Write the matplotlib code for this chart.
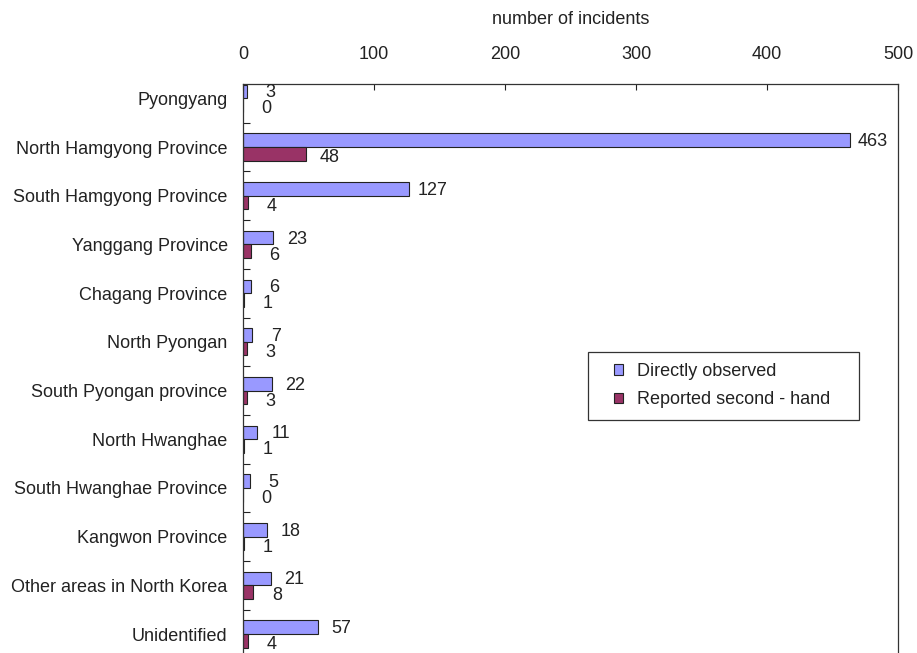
import numpy as np
import matplotlib
matplotlib.use('Agg')
import matplotlib.pyplot as plt
from matplotlib.patches import Rectangle

plt.rcParams['font.family'] = ['Liberation Sans', 'DejaVu Sans']
plt.rcParams['font.size'] = 13

regions = ['Pyongyang', 'North Hamgyong Province', 'South Hamgyong Province',
           'Yanggang Province', 'Chagang Province', 'North Pyongan',
           'South Pyongan province', 'North Hwanghae', 'South Hwanghae Province',
           'Kangwon Province', 'Other areas in North Korea', 'Unidentified']
direct = [3, 463, 127, 23, 6, 7, 22, 11, 5, 18, 21, 57]
second_hand = [0, 48, 4, 6, 1, 3, 3, 1, 0, 1, 8, 4]
series_names = ['Directly observed', 'Reported second - hand']

text_col = '#222222'
W, H = 917, 653
fig = plt.figure(figsize=(W / 100, H / 100), dpi=100)
ax = fig.add_axes([243 / W, 1 - 658.4 / H, (898 - 243) / W, (658.4 - 84) / H])

y = np.arange(len(regions))
h = 0.28
b1 = ax.barh(y - h / 2, direct, height=h, color='#9999FF', edgecolor='#222222',
             linewidth=0.8, label=series_names[0])
b2 = ax.barh(y + h / 2, second_hand, height=h, color='#993366', edgecolor='#222222',
             linewidth=0.8, label=series_names[1])

# value labels just past the bar ends
for bars, vals, dy in ((b1, direct, -1.0), (b2, second_hand, -2.7)):
    for bar, v in zip(bars, vals):
        ax.annotate(str(v), (v, bar.get_y() + bar.get_height() / 2),
                    xytext=(17, dy), textcoords='offset points',
                    ha='center', va='center', fontsize=13, color=text_col)

ax.set_xlim(0, 500)
ax.set_ylim(11.5, -0.295)
ax.xaxis.tick_top()
ax.xaxis.set_label_position('top')
ax.set_xticks([0, 100, 200, 300, 400, 500])
ax.tick_params(axis='x', direction='in', length=4.5, width=0.8, pad=15,
               colors=text_col, labelsize=13)
ax.set_xlabel('number of incidents', labelpad=16, color=text_col, fontsize=13)

ax.set_yticks(y)
ax.set_yticklabels(regions)
ax.set_yticks(y[:-1] + 0.5, minor=True)
ax.tick_params(axis='y', which='major', length=0, pad=11, colors=text_col, labelsize=13)
ax.tick_params(axis='y', which='minor', direction='in', length=5, width=0.8, color=text_col)

for side in ('left', 'top', 'right'):
    ax.spines[side].set_color('#333333')
    ax.spines[side].set_linewidth(0.9)
ax.spines['bottom'].set_visible(False)

# legend box drawn separately so the padding can be wider than tall
fig.patches.append(Rectangle((588 / W, 1 - 420 / H), (859 - 588) / W, (420 - 352) / H,
                             transform=fig.transFigure, facecolor='white',
                             edgecolor='#333333', linewidth=0.9, zorder=3))
leg = fig.legend(loc='upper left', bbox_to_anchor=(614 / W, 1 - 363 / H),
                 frameon=False, fontsize=13,
                 handlelength=0.5, handleheight=0.5, handletextpad=0.8,
                 borderpad=0, labelspacing=0.62, borderaxespad=0)
leg.set_zorder(4)
for t in leg.get_texts():
    t.set_color(text_col)

fig.savefig('out.png', dpi=100)
